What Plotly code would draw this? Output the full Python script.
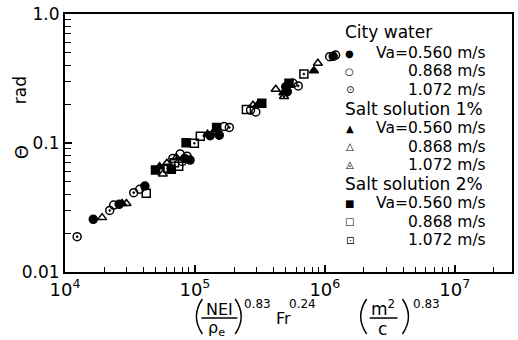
import plotly.graph_objects as go

# ---- data: x = (NEI/ρe)^0.83 Fr^0.24 (m2/c)^0.83, y = Θ [rad] ----
cw_560_x = [16.5e3, 26.1e3, 41.2e3, 83.2e3, 91.8e3, 131e3, 154e3, 500e3, 514e3, 1.16e6]
cw_560_y = [0.0256, 0.0335, 0.0464, 0.076, 0.0738, 0.114, 0.115, 0.273, 0.250, 0.470]

cw_868_x = [23.7e3, 37.6e3, 67.6e3, 77e3, 87e3, 168e3, 268e3, 294e3, 569e3, 1.09e6]
cw_868_y = [0.033, 0.0438, 0.076, 0.0822, 0.079, 0.134, 0.180, 0.174, 0.290, 0.467]

cw_1072_x = [12.4e3, 22.1e3, 33.8e3, 80e3, 184e3, 624e3, 1.21e6]
cw_1072_y = [0.0188, 0.030, 0.0412, 0.072, 0.132, 0.277, 0.480]

s1_560_x = [27.5e3, 53.4e3, 125e3, 303e3, 480e3, 824e3]
s1_560_y = [0.034, 0.0655, 0.117, 0.197, 0.245, 0.363]

s1_868_x = [19.3e3, 29.7e3, 56.6e3, 60.8e3, 142e3, 280e3, 419e3, 884e3]
s1_868_y = [0.0264, 0.034, 0.0575, 0.0696, 0.122, 0.196, 0.261, 0.415]

s1_1072_x = [72e3, 138e3, 485e3]
s1_1072_y = [0.077, 0.120, 0.229]

s2_560_x = [49.7e3, 65.8e3, 85.5e3, 147e3, 327e3, 530e3]
s2_560_y = [0.0618, 0.0625, 0.1005, 0.132, 0.203, 0.290]

s2_868_x = [42.2e3, 69.7e3, 75e3, 110e3, 249e3]
s2_868_y = [0.0407, 0.0703, 0.066, 0.113, 0.182]

s2_1072_x = [62e3, 99e3, 690e3]
s2_1072_y = [0.0636, 0.0995, 0.343]

group_titles = ["City water", "Salt solution 1%", "Salt solution 2%"]
speed_labels = ["Va=0.560 m/s", "0.868 m/s", "1.072 m/s"]

x_tickvals = [1e4, 1e5, 1e6, 1e7]
x_ticktext = ["10<sup>4</sup>", "10<sup>5</sup>", "10<sup>6</sup>", "10<sup>7</sup>"]
y_tickvals = [0.01, 0.1, 1.0]
y_ticktext = ["0.01", "0.1", "1.0"]

FONT = "DejaVu Sans"
W, H = 518, 340
L, R, T, B = 65, 4, 14, 68
PW, PH = W - L - R, H - T - B


def px(x):
    return (x - L) / PW


def py(y):
    return (H - B - y) / PH


series = [
    (cw_560_x, cw_560_y, "circle"),
    (cw_868_x, cw_868_y, "circle-open"),
    (cw_1072_x, cw_1072_y, "circle-open-dot"),
    (s1_560_x, s1_560_y, "triangle-up"),
    (s1_868_x, s1_868_y, "triangle-up-open"),
    (s1_1072_x, s1_1072_y, "triangle-up-open-dot"),
    (s2_560_x, s2_560_y, "square"),
    (s2_868_x, s2_868_y, "square-open"),
    (s2_1072_x, s2_1072_y, "square-open-dot"),
]

fig = go.Figure()
for xs, ys, sym in series:
    fig.add_trace(go.Scatter(
        x=xs, y=ys, mode="markers", showlegend=False,
        marker=dict(symbol=sym, size=8, color="black",
                    line=dict(color="black", width=1.5)),
    ))

minor_x = [k * 10 ** d for d in range(4, 8) for k in range(2, 10)]
minor_y = [k * 10 ** d for d in range(-2, 0) for k in range(2, 10)]

fig.update_xaxes(
    type="log", range=[4, 4 + PW / 130.5],
    tickmode="array", tickvals=x_tickvals, ticktext=x_ticktext,
    ticks="inside", ticklen=7, tickwidth=1.5, tickcolor="black",
    showline=True, linecolor="black", linewidth=2, mirror=True,
    showgrid=False, zeroline=False,
    tickfont=dict(family=FONT, size=18, color="black"),
    minor=dict(tickmode="array", tickvals=minor_x, ticks="inside",
               ticklen=5, tickwidth=1.3, tickcolor="black", showgrid=False),
)
fig.update_yaxes(
    type="log", range=[-2, 0],
    tickmode="array", tickvals=y_tickvals, ticktext=y_ticktext,
    ticks="inside", ticklen=7, tickwidth=1.5, tickcolor="black",
    showline=True, linecolor="black", linewidth=2, mirror=True,
    showgrid=False, zeroline=False,
    tickfont=dict(family=FONT, size=17, color="black"),
    minor=dict(tickmode="array", tickvals=minor_y, ticks="inside",
               ticklen=6, tickwidth=1.3, tickcolor="black", showgrid=False),
)

ann = []


def text(x, y, s, size, xanchor="center", angle=0):
    ann.append(dict(xref="paper", yref="paper", x=px(x), y=py(y), text=s,
                    showarrow=False, xanchor=xanchor, yanchor="middle",
                    textangle=angle, borderpad=0,
                    font=dict(family=FONT, size=size, color="black")))


# legend block
glyphs = [["●", "○", "⊙"], ["▲", "△", "◬"], ["■", "□", "⊡"]]
title_rows = [31.7, 109, 184]
item_rows = [[53, 71.5, 90], [128, 146.5, 165], [203, 221.5, 240]]
for g in range(3):
    text(345, title_rows[g], group_titles[g], 17, xanchor="left")
    for k in range(3):
        text(351, item_rows[g][k], glyphs[g][k], 10)
        text(489, item_rows[g][k], speed_labels[k], 15.5, xanchor="right")

# y axis title
text(20, 90, "rad", 17, angle=-90)
text(21, 152, "Θ", 18, angle=-90)

# x axis title pieces
text(220, 309, "NEI", 16)
text(217, 328, "ρ<sub>e</sub>", 16)
text(258, 304, "0.83", 12)
text(284, 318, "Fr", 16)
text(304, 304, "0.24", 12)
text(384, 308, "m<sup>2</sup>", 17)
text(384, 329, "c", 17)
text(428, 304, "0.83", 12)

shapes = []


def line(x0, y0, x1, y1):
    shapes.append(dict(type="line", xref="paper", yref="paper",
                       x0=px(x0), y0=py(y0), x1=px(x1), y1=py(y1),
                       line=dict(color="black", width=1.5)))


def paren(xe, xc):
    shapes.append(dict(type="path", xref="paper", yref="paper",
                       path=f"M {px(xe)} {py(299)} Q {px(xc)} {py(316.5)} {px(xe)} {py(334)}",
                       line=dict(color="black", width=1.5)))


line(202, 318, 238, 318)
line(371, 318, 399, 318)
paren(203, 191)
paren(236, 248)
paren(368, 356)
paren(404, 416)

fig.update_layout(
    width=W, height=H,
    margin=dict(l=L, r=R, t=T, b=B, pad=0),
    plot_bgcolor="white", paper_bgcolor="white",
    font=dict(family=FONT, color="black"),
    annotations=ann, shapes=shapes, showlegend=False,
)

fig.write_html("out.html")
